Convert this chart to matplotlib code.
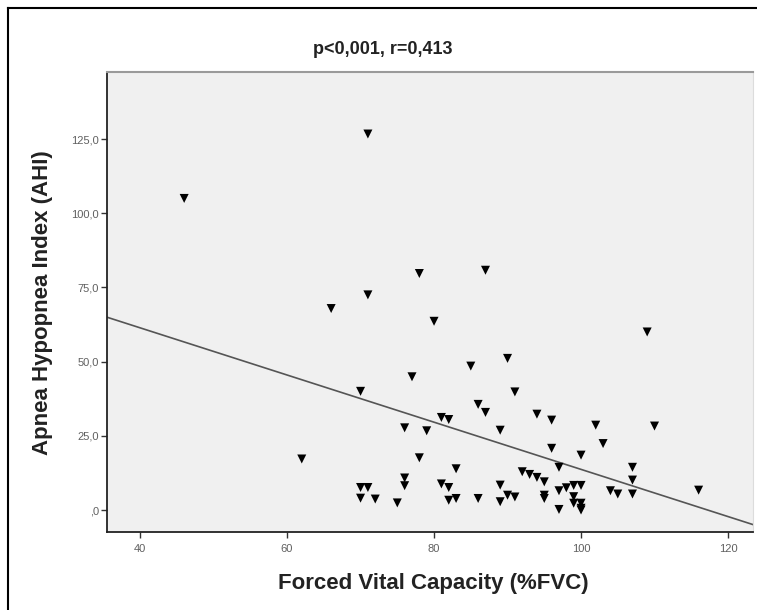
import matplotlib
matplotlib.use("Agg")
import matplotlib.pyplot as plt
from matplotlib.lines import Line2D
import numpy as np

plt.rcParams['font.family'] = ['Liberation Sans', 'DejaVu Sans']

# forced vital capacity (%FVC) per patient
fvc = [46, 71, 66, 71, 78, 87, 80, 109, 90, 85,
       77, 70, 91, 86, 87, 94, 96, 81, 82, 76,
       79, 89, 102, 110, 103, 96, 100, 62, 78, 97,
       83, 107, 92, 93, 94, 95, 76, 76, 107, 70,
       71, 81, 82, 89, 97, 98, 99, 100, 104, 105,
       107, 116, 70, 72, 75, 82, 83, 86, 89, 90,
       91, 95, 95, 97, 99, 99, 100, 100, 100]
# apnea hypopnea index (AHI) per patient
ahi = [105.0, 126.7, 67.9, 72.5, 79.7, 80.8, 63.6, 60.0, 51.1, 48.5,
       44.9, 40.0, 39.8, 35.6, 32.9, 32.3, 30.3, 31.2, 30.5, 27.7,
       26.7, 26.9, 28.6, 28.3, 22.4, 20.8, 18.5, 17.2, 17.6, 14.4,
       13.9, 14.4, 12.9, 12.0, 11.0, 9.5, 10.8, 8.2, 10.1, 7.6,
       7.6, 8.8, 7.6, 8.4, 6.5, 7.5, 8.3, 8.3, 6.5, 5.4,
       5.4, 6.7, 4.0, 3.7, 2.4, 3.3, 3.9, 3.9, 2.8, 5.0,
       4.4, 5.0, 3.9, 0.2, 4.5, 2.3, 2.3, 0.6, 0.0]

# fitted line
line_intercept = 93.2
line_slope = -0.795

x_ticks = [40, 60, 80, 100, 120]
x_tick_labels = ['40', '60', '80', '100', '120']
y_ticks = [0, 25, 50, 75, 100, 125]
y_tick_labels = [',0', '25,0', '50,0', '75,0', '100,0', '125,0']

title = 'p<0,001, r=0,413'
x_label = 'Forced Vital Capacity (%FVC)'
y_label = 'Apnea Hypopnea Index (AHI)'

W, H = 757, 610
fig = plt.figure(figsize=(W / 100, H / 100), dpi=100)
fig.patch.set_facecolor('white')

ax = fig.add_axes([107 / W, 1 - 532 / H, (753 - 107) / W, (532 - 72) / H])
ax.set_facecolor('#f0f0f0')

xmin, xmax = 35.5, 123.4
ax.set_xlim(xmin, xmax)
ax.set_ylim(-7.4, 147.6)

# regression line
xs = np.array([xmin, xmax])
ax.plot(xs, line_intercept + line_slope * xs, color='#555555', linewidth=1.2, zorder=2)

# points
ax.scatter(fvc, ahi, marker='v', s=42, color='black', edgecolors='none', zorder=3)

ax.set_xticks(x_ticks)
ax.set_xticklabels(x_tick_labels)
ax.set_yticks(y_ticks)
ax.set_yticklabels(y_tick_labels)
ax.tick_params(axis='both', direction='out', length=4, width=1, colors='#333333',
               labelsize=8, labelcolor='#606060')
ax.tick_params(axis='x', pad=5)
ax.tick_params(axis='y', pad=2)

for side in ['left', 'bottom']:
    ax.spines[side].set_color('#222222')
    ax.spines[side].set_linewidth(1.3)
ax.spines['top'].set_color('#9a9a9a')
ax.spines['top'].set_linewidth(1.5)
ax.spines['right'].set_color('#dcdcdc')

fig.text(383 / W, 1 - 50 / H, title, ha='center', va='center',
         fontsize=13, fontweight='bold', color='#222222')
fig.text(433 / W, 1 - 583 / H, x_label, ha='center', va='center',
         fontsize=16, fontweight='bold', color='#222222')
fig.text(43 / W, 1 - 303 / H, y_label, ha='center', va='center', rotation=90,
         fontsize=16, fontweight='bold', color='#222222')

# outer frame (left and top edges visible)
fig.add_artist(Line2D([8 / W, 8 / W], [0, 1 - 8 / H], color='black', linewidth=1.5,
                      transform=fig.transFigure))
fig.add_artist(Line2D([8 / W, 1], [1 - 8 / H, 1 - 8 / H], color='black', linewidth=1.5,
                      transform=fig.transFigure))

fig.savefig('out.png', dpi=100)
